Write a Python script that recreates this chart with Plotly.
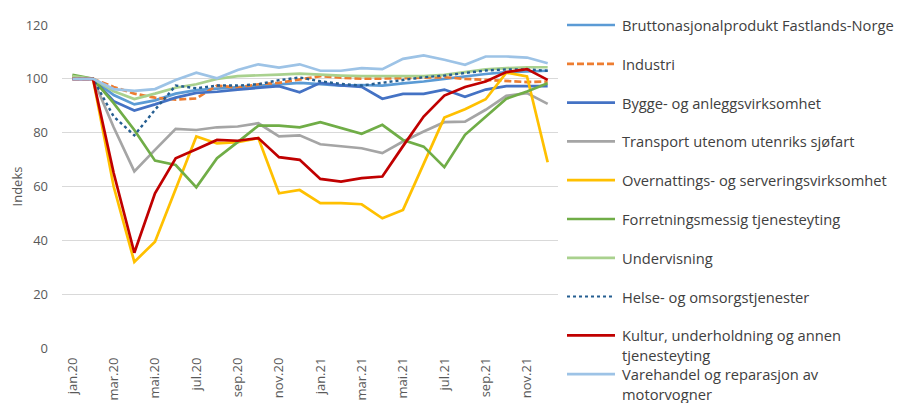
import plotly.graph_objects as go

months = ["jan.20", "feb.20", "mar.20", "apr.20", "mai.20", "jun.20", "jul.20", "aug.20",
          "sep.20", "okt.20", "nov.20", "des.20", "jan.21", "feb.21", "mar.21", "apr.21",
          "mai.21", "jun.21", "jul.21", "aug.21", "sep.21", "okt.21", "nov.21", "des.21"]
tick_labels = months[::2]

bnp = [100, 100, 94, 90.5, 92, 94.5, 95.8, 96.3, 97, 97.5, 98, 98.5,
       98, 97.5, 97.7, 97.5, 98.3, 99, 100, 101, 101.8, 102.5, 102.8, 103]
industri = [100, 100, 97, 94.5, 93, 92.3, 92.7, 97.5, 96.7, 98, 98.5, 99.8,
            101, 100.4, 100.1, 100.1, 100.2, 100.4, 100.6, 100, 99.6, 99.2, 98.8, 99]
bygge = [100, 100, 91.7, 88.2, 90.5, 93, 94.8, 95.2, 96, 96.7, 97.3, 95,
         98.5, 97.6, 97, 92.6, 94.4, 94.4, 96, 93.3, 96, 97.3, 97.3, 97.3]
transport = [100.5, 100, 82, 65.6, 73.6, 81.4, 81, 82, 82.3, 83.5, 78.6, 79,
             75.7, 74.9, 74.2, 72.4, 76.7, 80.4, 83.9, 84.1, 88.5, 93.7, 94.7, 90.7]
overnatting = [100.5, 100, 60, 32, 39.5, 58.7, 78.6, 76, 76.5, 78, 57.5, 58.7,
               53.8, 53.8, 53.4, 48.2, 51.3, 68.4, 85.6, 88.7, 92.4, 102.3, 100.9, 69]
forretning = [101.5, 100, 91, 81, 69.6, 68, 59.7, 70.5, 76.5, 82.6, 82.6, 82,
              83.9, 81.7, 79.6, 82.9, 77.3, 74.8, 67.2, 79.2, 86, 92.6, 95.3, 98.4]
undervisning = [101, 100, 95.4, 92.5, 94.5, 96.7, 98, 100, 101, 101.2, 101.6, 101.9,
                101.5, 101.2, 101, 101, 101, 101, 101.5, 102.5, 103.5, 104, 104.3, 104.3]
helse = [100, 100, 86, 79, 88.5, 97.5, 96.5, 97.5, 97.5, 98, 99.5, 100.5,
         99.1, 98.1, 97.5, 98.5, 99.7, 100.6, 101.2, 102.2, 103.1, 103.5, 103.5, 103]
kultur = [100, 100, 65, 35.4, 57.5, 70.5, 73.8, 77.3, 77, 78, 70.9, 69.9,
          62.8, 61.8, 63.1, 63.7, 75, 86, 93.8, 97, 99, 102.5, 103.6, 99.6]
varehandel = [100, 100, 96.2, 95.5, 96.2, 99.6, 102.3, 100.2, 103.3, 105.4, 104.2, 105.4,
              103, 103, 104, 103.6, 107.4, 108.7, 107.1, 105.2, 108.3, 108.3, 107.9, 105.8]

series_names = [
    "Bruttonasjonalprodukt Fastlands-Norge",
    "Industri",
    "Bygge- og anleggsvirksomhet",
    "Transport utenom utenriks sjøfart",
    "Overnattings- og serveringsvirksomhet",
    "Forretningsmessig tjenesteyting",
    "Undervisning",
    "Helse- og omsorgstjenester",
    "Kultur, underholdning og annen<br>tjenesteyting",
    "Varehandel og reparasjon av<br>motorvogner",
]
series_values = [bnp, industri, bygge, transport, overnatting,
                 forretning, undervisning, helse, kultur, varehandel]
colors = ["#5B9BD5", "#ED7D31", "#4472C4", "#A5A5A5", "#FFC000",
          "#70AD47", "#A9D18E", "#255E91", "#C00000", "#9DC3E6"]
dashes = ["solid", "7px,3px", "solid", "solid", "solid", "solid", "solid", "dot", "solid", "solid"]

FONT = "Open Sans"
W, H = 898, 403
ML, MR, MT, MB = 62, 340, 25, 55
pw, ph = W - ML - MR, H - MT - MB

fig = go.Figure()
for name, vals, col, dsh in zip(series_names, series_values, colors, dashes):
    fig.add_trace(go.Scatter(
        x=months, y=vals, mode="lines", name=name, showlegend=False,
        line=dict(color=col, width=2.7 if dsh != "dot" else 2.4, dash=dsh),
        hoverinfo="skip"))

# manual legend (Excel style: fixed row pitch, wrapped text overflowing)
def px_x(p):
    return (p - ML) / pw

def px_y(p):
    return (H - MB - p) / ph

row0, pitch = 25, 38.8
shapes, annotations = [], []
for i, (name, col, dsh) in enumerate(zip(series_names, colors, dashes)):
    yc = row0 + i * pitch
    shapes.append(dict(type="line", xref="paper", yref="paper",
                       x0=px_x(567), x1=px_x(615), y0=px_y(yc), y1=px_y(yc),
                       line=dict(color=col, width=2.7 if dsh != "dot" else 2.0, dash=dsh)))
    for j, part in enumerate(name.split("<br>")):
        annotations.append(dict(xref="paper", yref="paper", x=px_x(620), y=px_y(yc + 20 * j),
                                xanchor="left", yanchor="middle", showarrow=False,
                                text=part, font=dict(family=FONT, size=14.7, color="#404040")))

fig.update_layout(
    width=W, height=H,
    margin=dict(l=ML, r=MR, t=MT, b=MB, autoexpand=False),
    paper_bgcolor="white", plot_bgcolor="white",
    font=dict(family=FONT, size=13, color="#595959"),
    shapes=shapes, annotations=annotations,
    xaxis=dict(type="category", range=[-0.5, 23.5], tickmode="array",
               tickvals=tick_labels, ticktext=tick_labels, tickangle=-90,
               showgrid=False, showline=False, zeroline=False, ticks="",
               ticklabelstandoff=6, automargin=False,
               tickfont=dict(family=FONT, size=13, color="#595959")),
    yaxis=dict(range=[0, 120], dtick=20, showgrid=True, gridcolor="#D9D9D9", gridwidth=1,
               zeroline=False, showline=False, ticks="", ticklabelstandoff=13,
               automargin=False,
               tickfont=dict(family=FONT, size=13, color="#595959"),
               title=dict(text="Indeks", standoff=0,
                          font=dict(family=FONT, size=13, color="#595959"))),
)

fig.write_html(
    "out.html",
    config={"displayModeBar": False},
    post_script="document.documentElement.style.margin='0';"
                "document.body.style.margin='0';document.body.style.overflow='hidden';",
)
